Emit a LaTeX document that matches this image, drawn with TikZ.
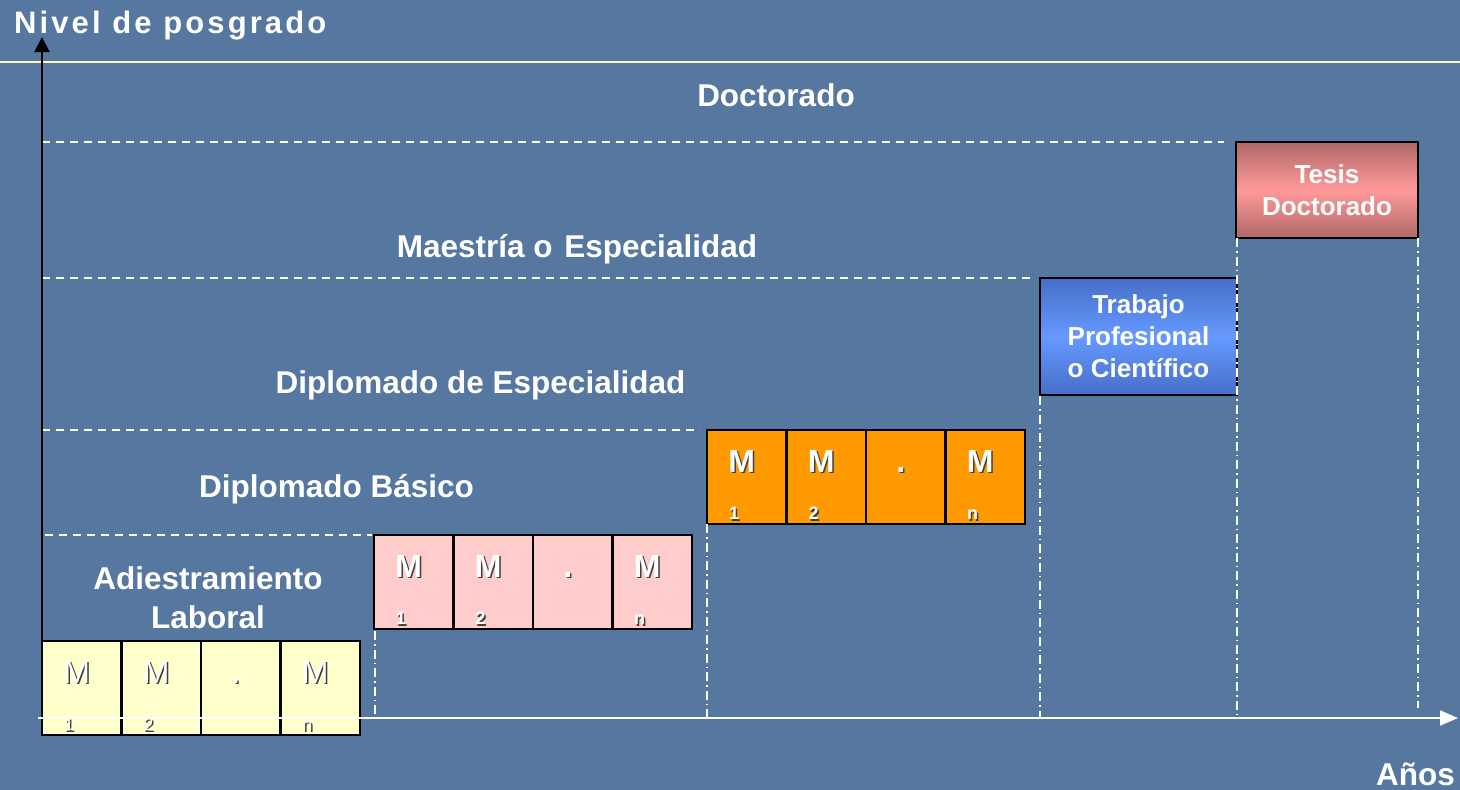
\documentclass[tikz,border=0pt]{standalone}
\usepackage{fontspec}
\setmainfont{Liberation Sans}
\newfontfamily\titlefont[LetterSpace=10]{Liberation Sans}
\usepackage{xcolor}
\usepackage{tikz}
\usetikzlibrary{arrows.meta}

\definecolor{bgblue}{RGB}{86,120,160}
\definecolor{rulecream}{RGB}{255,250,180}
\definecolor{cellyellow}{RGB}{255,255,204}
\definecolor{cellpink}{RGB}{255,204,204}
\definecolor{cellorange}{RGB}{255,153,0}
\definecolor{tesisdark}{RGB}{176,104,104}
\definecolor{tesislight}{RGB}{255,153,153}
\definecolor{trabdark}{RGB}{70,110,200}
\definecolor{trablight}{RGB}{102,153,255}

\newcommand{\shadowed}[1]{\rlap{\kern1.5pt\raisebox{-1.5pt}{\color{black!75}#1}}#1}

\begin{document}
\begin{tikzpicture}[x=1pt, y=-1pt,
  level/.style={text=white, anchor=base, inner sep=0pt,
    font=\bfseries\fontsize{31.5}{36}\selectfont},
  dashline/.style={white, line width=1.6pt, dash pattern=on 8pt off 6pt},
  dashdot/.style={white, line width=1.4pt, dash pattern=on 9pt off 4pt on 1.5pt off 4pt},
  cell/.style={draw=black, line width=2.5pt, minimum width=79.5pt,
    minimum height=94pt, inner sep=0pt},
  mtext/.style={text=white, anchor=base, inner sep=0pt, font=\fontsize{32}{36}\selectfont},
  subtext/.style={text=white, anchor=base, inner sep=0pt, font=\fontsize{18}{20}\selectfont},
  stage/.style={draw=black, line width=2.5pt, inner sep=0pt, text=white, align=center,
    font=\bfseries\fontsize{26}{32}\selectfont}]

\fill[bgblue] (0,0) rectangle (1460,790);
\useasboundingbox (0,0) rectangle (1460,790);

% title and top rule
\node[anchor=base west, text=white, inner sep=0pt,
  font=\titlefont\bfseries\fontsize{31}{36}\selectfont] (title) at (14,33) {Nivel de posgrado};
\draw[rulecream, line width=1.3pt] (0,62) -- (1460,62);

% level labels
\node[level] (doct) at (776,106) {Doctorado};
\node[level] (maes) at (577,257.5) {Maestría o\hspace{3pt} Especialidad};
\node[level] (dipesp) at (480.5,393) {Diplomado de Especialidad};
\node[level] (dipbas) at (336.5,497) {Diplomado Básico};
\node[level] (adies) at (208,589) {Adiestramiento};
\node[level] (labor) at (208,628) {Laboral};
\node[level, anchor=base east] (anos) at (1455,785) {Años};

% level limits
\draw[dashline] (42,142) -- (1224,142);
\draw[dashline] (42,278) -- (1030,278);
\draw[dashline] (42,430) -- (700,430);
\draw[dashline] (45,535) -- (372,535);

% modules
\foreach \gx/\gy/\gc/\gn/\gw in {42/641/cellyellow/ya/\mdseries,
    374/535/cellpink/pa/\bfseries, 707/430/cellorange/oa/\bfseries} {
  \foreach \i/\m/\s in {0/M/1, 1/M/2, 2/./{}, 3/M/n} {
    \node[cell, fill=\gc] (\gn\i) at (\gx+\i*79.5+39.75, \gy+47) {};
    \node[mtext] (\gn\i m) at ([shift={(-5,-5)}]\gn\i.center) {\gw\shadowed{\m}};
    \node[subtext] (\gn\i s) at ([shift={(-12.75,42.5)}]\gn\i.center) {\gw\shadowed{\s}};
  }
}

% final works
\node[stage, minimum width=197pt, minimum height=117pt,
  top color=trabdark, bottom color=trabdark, middle color=trablight]
  (trab) at (1138.5,336.5) {Trabajo\\Profesional\\o Científico};
\node[stage, minimum width=182pt, minimum height=96pt,
  top color=tesisdark, bottom color=tesisdark, middle color=tesislight]
  (tesis) at (1327,190) {Tesis\\Doctorado};

% year limits
\draw[dashdot] (375,631) -- (375,718);
\draw[dashdot] (707,524) -- (707,718);
\draw[dashdot] (1040,396) -- (1040,718);
\draw[dashdot] (1237,238) -- (1237,718);
\draw[dashdot] (1418,238) -- (1418,708);

% axes
\coordinate (yorig) at (42,718);
\coordinate (ytop) at (42,37);
\coordinate (xorig) at (38,718);
\coordinate (xend) at (1458,718);
\draw[black, line width=2pt, -{Triangle[length=15pt, width=15pt]}] (yorig) -- (ytop);
\draw[white, line width=2pt, -{Triangle[length=18pt, width=15pt]}] (xorig) -- (xend);
\end{tikzpicture}
\end{document}
